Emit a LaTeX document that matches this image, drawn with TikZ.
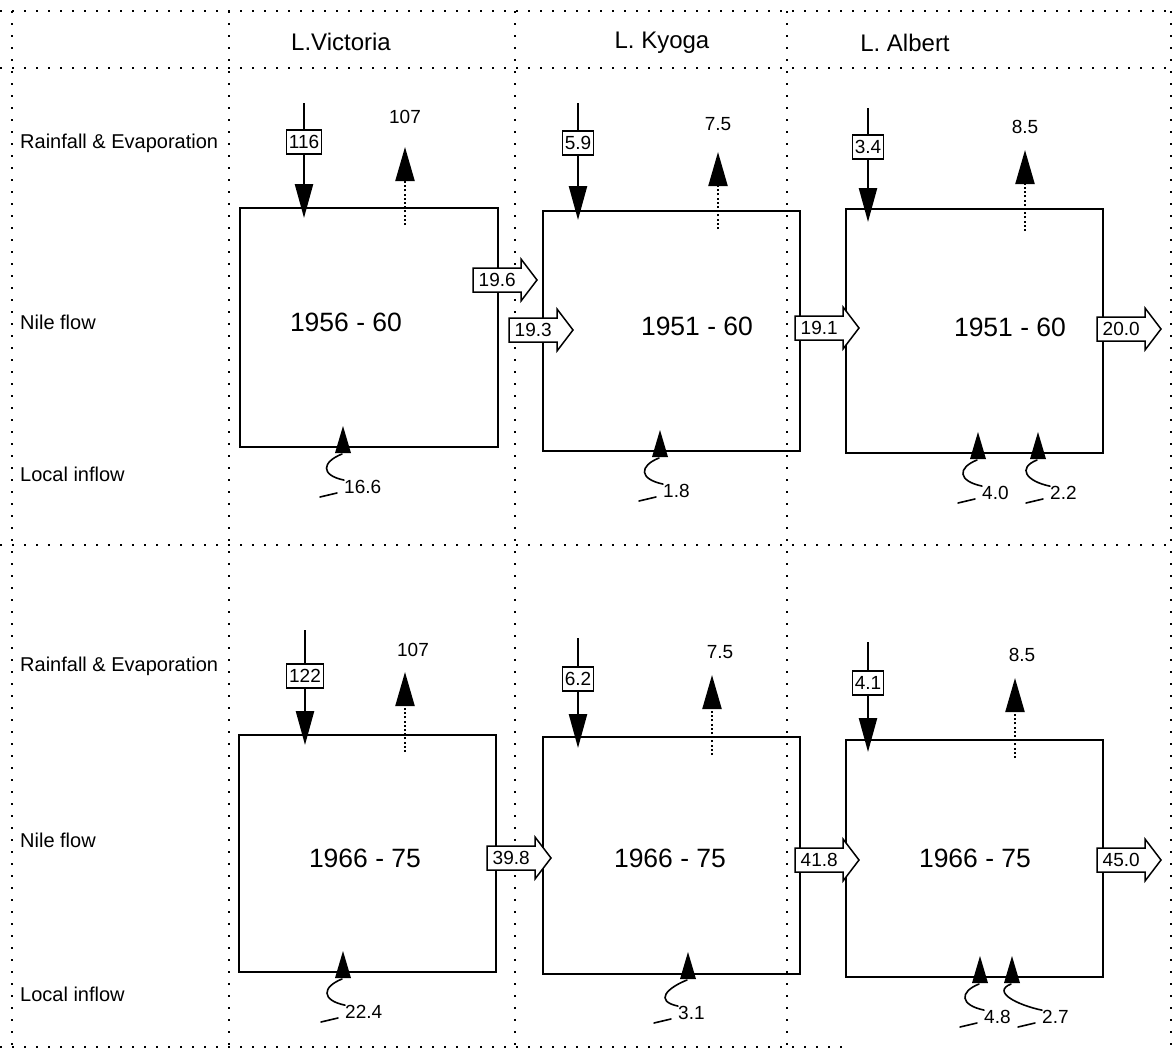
\documentclass[tikz,border=0pt]{standalone}
\usepackage{fontspec}
\setmainfont{Liberation Sans}
\usetikzlibrary{arrows.meta,calc}
\newcommand\fsz[1]{\fontsize{#1}{#1}\selectfont}
\newcommand\flowarrow[4]{%
  \draw[flowshape] (#2,#3-12) -- (#2+48,#3-12) -- (#2+48,#3-21) -- (#2+64,#3)
     -- (#2+48,#3+21) -- (#2+48,#3+12) -- (#2,#3+12) -- cycle;
  \node[flowtxt] (#1) at (#2,#3) {#4};}
\newcommand\inflow[5]{%
  \fill (#2,#3-21) -- (#2-8,#3+6) -- (#2+8,#3+6) -- cycle;
  \coordinate (#1b) at (#2-1,#3+7);
  \node[num, anchor=west] (#1) at (#2+#5,#3+40) {#4};
  \draw[squig] (#1b) .. controls +(-20,8) and +(-24,-5) .. (#1.north west);
  \coordinate (#1s) at (#2+#5-24,#3+50);
  \coordinate (#1e) at (#2+#5-7,#3+46);
  \draw[squig] (#1s) -- (#1e);}
\begin{document}
\begin{tikzpicture}[x=1pt,y=-1pt,
  gridline/.style={line width=1.3pt, dash pattern=on 2pt off 10pt},
  lake/.style={draw, line width=1.8pt},
  hdr/.style={font=\fsz{24}},
  rowlbl/.style={font=\fsz{20}, anchor=west, inner sep=0pt},
  yr/.style={font=\fsz{26.5}},
  num/.style={font=\fsz{19}, inner sep=0pt},
  rainbox/.style={draw, fill=white, line width=1.5pt, font=\fsz{19}, inner xsep=2.5pt, inner ysep=0pt, minimum height=24pt},
  rain/.style={line width=2.4pt, -{Triangle[length=34pt,width=18pt]}},
  evap/.style={line width=2.2pt, dash pattern=on 2pt off 2.2pt, -{Triangle[length=34pt,width=19pt]}},
  flowtxt/.style={font=\fsz{19}, minimum width=48pt, minimum height=24pt, inner sep=0pt, anchor=west},
  flowshape/.style={draw, fill=white, line width=1.5pt, line join=miter},
  squig/.style={line width=1.6pt, line cap=round}]
\useasboundingbox (0,0) rectangle (1176,1055);
% grid
\draw[gridline] (0,11) -- (1172,11);
\draw[gridline] (0,68) -- (1172,68);
\draw[gridline] (0,545) -- (1172,545);
\draw[gridline] (0,1047) -- (850,1047);
\draw[gridline] (12,11) -- (12,1047);
\draw[gridline] (229,11) -- (229,1047);
\draw[gridline] (515,11) -- (515,1047);
\draw[gridline] (787,11) -- (787,1047);
\draw[gridline] (1171,11) -- (1171,1050);
% headers
\node[hdr] (hv) at (341,42) {L.Victoria};
\node[hdr] (hk) at (662,43) {L. Kyoga};
\node[hdr] (ha) at (905,43) {L. Albert};
% row labels
\node[rowlbl] (l1) at (20,143) {Rainfall \& Evaporation};
\node[rowlbl] (l2) at (20,322) {Nile flow};
\node[rowlbl] (l3) at (20,474) {Local inflow};
\node[rowlbl] (l4) at (20,666) {Rainfall \& Evaporation};
\node[rowlbl] (l5) at (20,840) {Nile flow};
\node[rowlbl] (l6) at (20,994) {Local inflow};
% lake boxes
\draw[lake] (240,208) rectangle (498,447);
\draw[lake] (543,211) rectangle (800,451);
\draw[lake] (846,209) rectangle (1103,453);
\draw[lake] (239,735) rectangle (496,972);
\draw[lake] (543,737) rectangle (800,974);
\draw[lake] (846,740) rectangle (1103,977);
% periods
\node[yr] (p1) at (346,322) {1956 - 60};
\node[yr] (p2) at (697,326) {1951 - 60};
\node[yr] (p3) at (1010,327) {1951 - 60};
\node[yr] (p4) at (365,858) {1966 - 75};
\node[yr] (p5) at (670,858) {1966 - 75};
\node[yr] (p6) at (975,858) {1966 - 75};
% rainfall
\coordinate (ra1) at (304,103); \coordinate (rb1) at (304,218);
\coordinate (ra2) at (578,103); \coordinate (rb2) at (578,220);
\coordinate (ra3) at (868,108); \coordinate (rb3) at (868,222);
\coordinate (ra4) at (305,630); \coordinate (rb4) at (305,745);
\coordinate (ra5) at (578,638); \coordinate (rb5) at (578,748);
\coordinate (ra6) at (868,642); \coordinate (rb6) at (868,752);
\foreach \i in {1,...,6} {\draw[rain] (ra\i) -- (rb\i);}
\node[rainbox] (rl1) at (304,142) {116};
\node[rainbox] (rl2) at (578,143) {5.9};
\node[rainbox] (rl3) at (868,147) {3.4};
\node[rainbox] (rl4) at (305,676) {122};
\node[rainbox] (rl5) at (578,679) {6.2};
\node[rainbox] (rl6) at (868,683) {4.1};
% evaporation
\coordinate (ea1) at (405,225); \coordinate (eb1) at (405,147);
\coordinate (ea2) at (718,229); \coordinate (eb2) at (718,152);
\coordinate (ea3) at (1025,231); \coordinate (eb3) at (1025,150);
\coordinate (ea4) at (405,752); \coordinate (eb4) at (405,672);
\coordinate (ea5) at (712,755); \coordinate (eb5) at (712,675);
\coordinate (ea6) at (1015,758); \coordinate (eb6) at (1015,678);
\foreach \i in {1,...,6} {\draw[evap] (ea\i) -- (eb\i);}
\node[num] (el1) at (405,117) {107};
\node[num] (el2) at (718,124) {7.5};
\node[num] (el3) at (1025,127) {8.5};
\node[num] (el4) at (413,650) {107};
\node[num] (el5) at (720,652) {7.5};
\node[num] (el6) at (1022,655) {8.5};
% nile flow
\flowarrow{f1}{473}{280}{19.6}
\flowarrow{f2}{509}{330}{19.3}
\flowarrow{f3}{795}{328}{19.1}
\flowarrow{f4}{1097}{329}{20.0}
\flowarrow{f5}{487}{858}{39.8}
\flowarrow{f6}{795}{860}{41.8}
\flowarrow{f7}{1097}{860}{45.0}
% local inflow
\inflow{i1}{343}{447}{16.6}{1}
\inflow{i2}{660}{451}{1.8}{3}
\inflow{i3}{978}{453}{4.0}{4}
\inflow{i4}{1038}{453}{2.2}{12}
\inflow{i5}{343}{972}{22.4}{2}
\inflow{i6}{688}{973}{3.1}{-10}
\inflow{i7}{980}{977}{4.8}{4}
\inflow{i8}{1012}{977}{2.7}{30}
\end{tikzpicture}
\end{document}
